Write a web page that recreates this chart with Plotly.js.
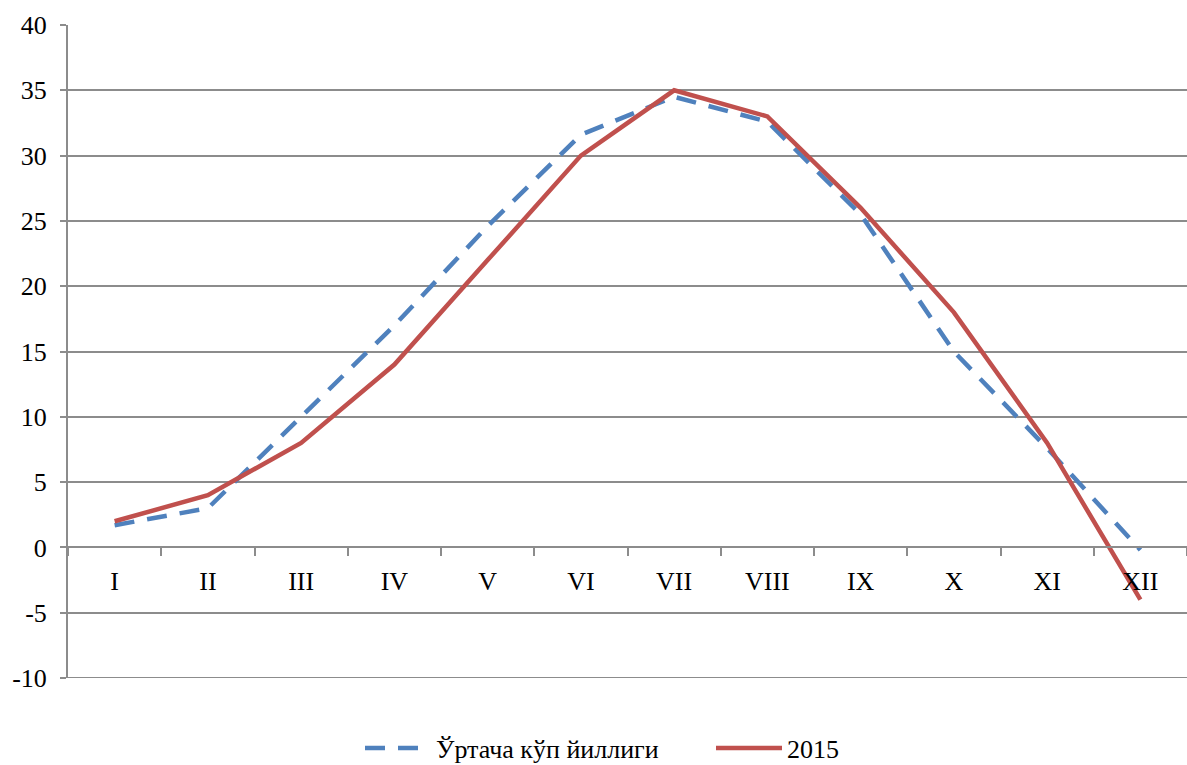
<!DOCTYPE html>
<html>
<head>
<meta charset="utf-8">
<script src="https://cdn.plot.ly/plotly-3.0.1.min.js"></script>
<style>html,body{margin:0;padding:0;background:#fff;}#chart{width:1187px;height:765px;}</style>
</head>
<body>
<div id="chart"></div>
<script>
const months = ["I","II","III","IV","V","VI","VII","VIII","IX","X","XI","XII"];
const avgName = "Ўртача кўп йиллиги";
const avgValues = [1.7, 3.0, 10.0, 17.0, 24.6, 31.6, 34.5, 32.6, 25.5, 15.0, 7.6, -0.2];
const y2015Name = "2015";
const y2015Values = [2, 4, 8, 14, 22, 30, 35, 33, 26, 18, 8, -4];
const yTicks = [-10, -5, 0, 5, 10, 15, 20, 25, 30, 35, 40];

const font = {family: "'Liberation Serif', 'Times New Roman', serif", size: 26, color: "#000"};
const grid = "#8c8c8c";

const traces = [
  {x: months, y: avgValues, name: avgName, type: "scatter", mode: "lines",
   line: {color: "#4F81BD", width: 4.5, dash: "20px,13px"}},
  {x: months, y: y2015Values, name: y2015Name, type: "scatter", mode: "lines",
   line: {color: "#C0504D", width: 4.5}}
];

const layout = {
  width: 1187, height: 765,
  margin: {l: 68, r: 0, t: 25, b: 87},
  paper_bgcolor: "#fff", plot_bgcolor: "#fff",
  font: font,
  showlegend: true,
  legend: {orientation: "h", xref: "container", yref: "container", x: 360/1187, xanchor: "left",
           y: 0.022, yanchor: "middle", font: font, itemwidth: 66, entrywidth: 270, traceorder: "normal"},
  xaxis: {type: "category", anchor: "free", position: 0.2, showline: true, linecolor: grid, linewidth: 2,
          ticks: "outside", tickson: "boundaries", ticklen: 8, tickwidth: 2, tickcolor: grid,
          showgrid: false, zeroline: false, ticklabelstandoff: 10, fixedrange: true,
          range: [-0.5, 11.5], tickfont: font},
  yaxis: {range: [-10, 40], tickvals: yTicks, ticktext: yTicks.map(String), showline: true, linecolor: grid, linewidth: 2,
          ticks: "outside", ticklen: 6, tickwidth: 2, tickcolor: grid, showgrid: true, gridcolor: grid, gridwidth: 2,
          zeroline: false, ticklabelstandoff: 8, tickfont: font},
  shapes: [{type: "line", xref: "paper", yref: "y", x0: 0, x1: 1, y0: -10, y1: -10,
            line: {color: grid, width: 2}, layer: "below"}]
};

Plotly.newPlot("chart", traces, layout, {displayModeBar: false, staticPlot: true});
</script>
</body>
</html>
